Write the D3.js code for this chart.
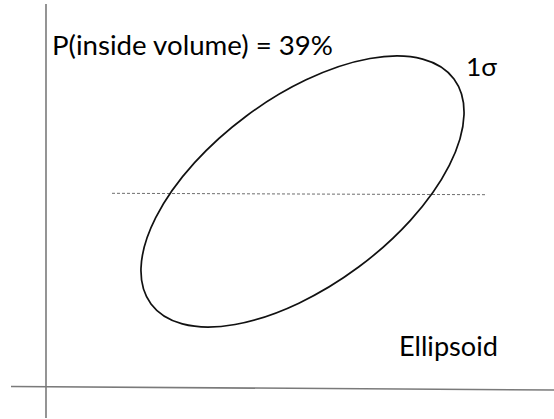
<!DOCTYPE html>
<html>
<head>
<meta charset="utf-8">
<script src="https://cdn.jsdelivr.net/npm/d3@7"></script>
<style>
  html, body { margin: 0; padding: 0; background: #fff; }
  svg { display: block; }
  .lbl { font-family: Lato, "Open Sans", sans-serif; fill: #000; }
</style>
</head>
<body>
<div id="chart"></div>
<script>
// 1σ ellipsoid sketch, units = pixels measured from the axis origin
const ellipseCenter = [256.5, 195.5];
const ellipseAxes = [188.7, 94.1];      // semi-major, semi-minor
const ellipseAngle = [36.6];            // degrees, counter-clockwise
const meanLine = [[66, 193.7], [441, 192.3]];
const xAxisLine = [[-35, 0.5], [508, -3]];
const yAxisLine = [[0, 383], [0, -31]];
const labels = ["P(inside volume) = 39%", "1σ", "Ellipsoid"];

const W = 554, H = 419;
const svg = d3.select("#chart").append("svg").attr("width", W).attr("height", H);

const x = d3.scaleLinear().domain([0, 508]).range([46, 554]);
const y = d3.scaleLinear().domain([0, 383]).range([387, 4]);

const line = d3.line().x(d => x(d[0])).y(d => y(d[1]));

// axes
[xAxisLine, yAxisLine].forEach(seg => {
  svg.append("path")
    .attr("d", line(seg))
    .attr("fill", "none")
    .attr("stroke", "#7a7a7a")
    .attr("stroke-width", 1.6);
});

// dashed horizontal line through the centre
svg.append("path")
  .attr("d", line(meanLine))
  .attr("fill", "none")
  .attr("stroke", "#6e6e6e")
  .attr("stroke-width", 1)
  .attr("stroke-dasharray", "3,2");

// ellipse
const cx = x(ellipseCenter[0]), cy = y(ellipseCenter[1]);
svg.append("ellipse")
  .attr("cx", cx)
  .attr("cy", cy)
  .attr("rx", x(ellipseAxes[0]) - x(0))
  .attr("ry", y(0) - y(ellipseAxes[1]))
  .attr("transform", `rotate(${-ellipseAngle[0]},${cx},${cy})`)
  .attr("fill", "none")
  .attr("stroke", "#111")
  .attr("stroke-width", 1.7);

// labels
svg.append("text").attr("class", "lbl")
  .attr("x", 52).attr("y", 55)
  .attr("font-size", 27.5)
  .attr("textLength", 281).attr("lengthAdjust", "spacingAndGlyphs")
  .text(labels[0]);

svg.append("text").attr("class", "lbl")
  .attr("x", 466).attr("y", 76)
  .attr("font-size", 25)
  .attr("textLength", 31).attr("lengthAdjust", "spacingAndGlyphs")
  .text(labels[1]);

svg.append("text").attr("class", "lbl")
  .attr("x", 399).attr("y", 356)
  .attr("font-size", 26)
  .attr("textLength", 99).attr("lengthAdjust", "spacingAndGlyphs")
  .text(labels[2]);
</script>
</body>
</html>
